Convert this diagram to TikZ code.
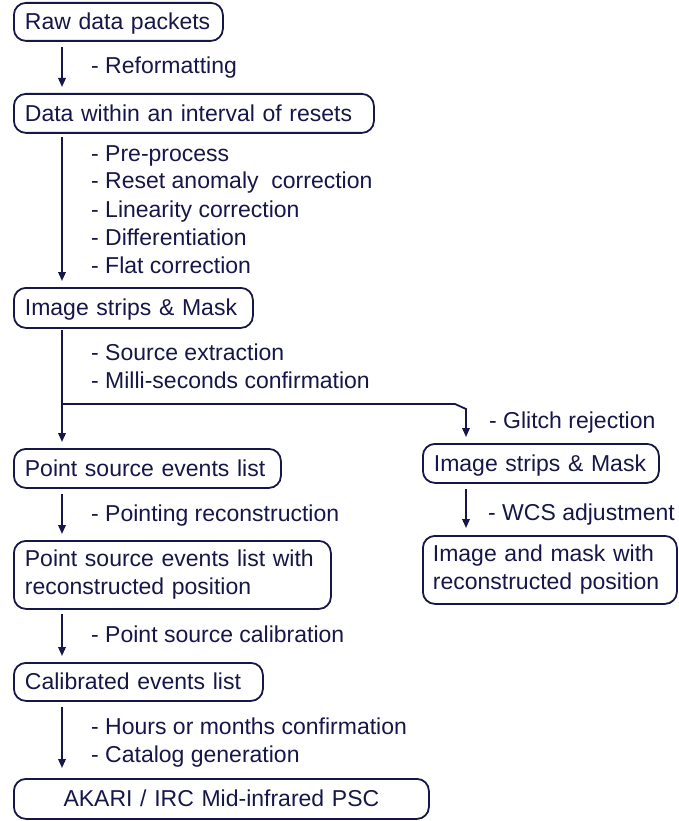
\documentclass[tikz,border=0pt]{standalone}
\usepackage{fontspec}
\setmainfont{Liberation Sans}
\usetikzlibrary{arrows.meta}
\definecolor{navy}{RGB}{22,22,72}
\tikzset{
  box/.style={draw=navy, line width=1.8pt, rounded corners=12pt, anchor=north west,
    inner xsep=11pt, inner ysep=0pt, align=left, text=navy,
    font=\fontsize{23}{28}\selectfont},
  lbl/.style={anchor=base west, inner sep=0pt, text=navy, font=\fontsize{23}{28}\selectfont},
  arr/.style={draw=navy, line width=1.8pt, -{Triangle[length=9pt,width=7.5pt]}},
}
\begin{document}
\begin{tikzpicture}[x=1pt,y=-1pt]
\useasboundingbox (0,0) rectangle (679,821);
% boxes
\node[box, text width=187pt, minimum height=38pt, text height=17pt, text depth=1pt] (b1) at (13,2) {Raw data packets};
\node[box, text width=338pt, minimum height=39pt, text height=17pt, text depth=1pt] (b2) at (13,93) {Data within an interval of resets};
\node[box, text width=217pt, minimum height=40pt, text height=17pt, text depth=1pt] (b3) at (13,287) {Image strips \& Mask};
\node[box, text width=245pt, minimum height=39pt, text height=17pt, text depth=1pt] (b4) at (13,448) {Point source events list};
\node[box, text width=214pt, minimum height=39pt, text height=17pt, text depth=1pt] (r1) at (422,443) {Image strips \& Mask};
\node[box, text width=295pt, minimum height=68pt] (b5) at (13,540) {Point source events list with\\reconstructed position};
\node[box, text width=234pt, minimum height=68pt, inner xsep=10pt] (r2) at (422,535) {Image and mask with\\reconstructed position};
\node[box, text width=227pt, minimum height=38pt, text height=17pt, text depth=1pt] (b6) at (13,662) {Calibrated events list};
\node[box, text width=393pt, minimum height=40pt, text height=17pt, text depth=1pt, align=center] (b7) at (13,778) {AKARI / IRC Mid-infrared PSC};
% labels
\node[lbl] (l1) at (91,74) {- Reformatting};
\node[lbl] (l2a) at (91,161) {- Pre-process};
\node[lbl] (l2b) at (91,189) {- Reset anomaly\ \ correction};
\node[lbl] (l2c) at (91,217) {- Linearity correction};
\node[lbl] (l2d) at (91,245) {- Differentiation};
\node[lbl] (l2e) at (91,273) {- Flat correction};
\node[lbl] (l3a) at (91,360.5) {- Source extraction};
\node[lbl] (l3b) at (91,388) {- Milli-seconds confirmation};
\node[lbl] (lg) at (489,428) {- Glitch rejection};
\node[lbl] (l4) at (91,521) {- Pointing reconstruction};
\node[lbl] (lw) at (488,520) {- WCS adjustment};
\node[lbl] (l5) at (91,642) {- Point source calibration};
\node[lbl] (l6a) at (91,734) {- Hours or months confirmation};
\node[lbl] (l6b) at (91,762) {- Catalog generation};
% connectors
\draw[arr, shorten <=5pt, shorten >=6pt] ([xshift=49pt]b1.south west) -- ([xshift=49pt]b2.north west);
\draw[arr, shorten <=3pt, shorten >=6pt] ([xshift=49pt]b2.south west) -- ([xshift=49pt]b3.north west);
\draw[arr, shorten <=1pt, shorten >=6pt] ([xshift=49pt]b3.south west) -- ([xshift=49pt]b4.north west);
\coordinate (br) at (62,404);
\coordinate (k1) at (455,404);
\coordinate (k2) at (466,409);
\draw[arr, shorten >=6pt] (br) -- (k1) -- (k2) -- ([xshift=44pt]r1.north west);
\draw[arr, shorten <=5pt, shorten >=6pt] ([xshift=49pt]b4.south west) -- ([xshift=49pt]b5.north west);
\draw[arr, shorten <=5pt, shorten >=7pt] ([xshift=44pt]r1.south west) -- ([xshift=44pt]r2.north west);
\draw[arr, shorten <=4pt, shorten >=6pt] ([xshift=49pt]b5.south west) -- ([xshift=49pt]b6.north west);
\draw[arr, shorten <=5pt, shorten >=10pt] ([xshift=49pt]b6.south west) -- ([xshift=49pt]b7.north west);
\end{tikzpicture}
\end{document}
